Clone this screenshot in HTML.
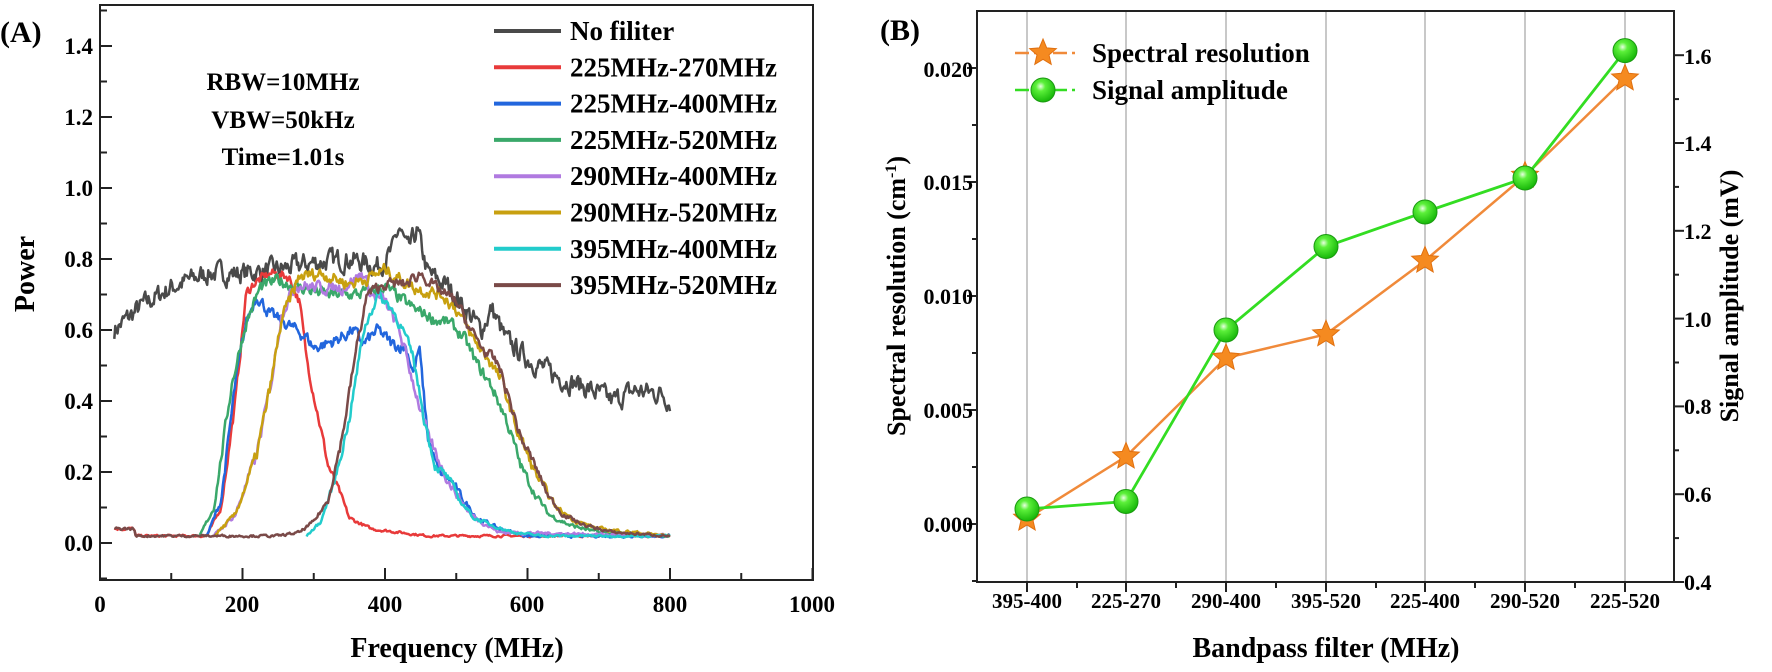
<!DOCTYPE html>
<html><head><meta charset="utf-8"><style>
html,body{margin:0;padding:0;background:#fff;}
svg{display:block;font-family:"Liberation Serif",serif;font-weight:bold;}
</style></head><body>
<svg id="s" width="1772" height="672" viewBox="0 0 1772 672" xmlns="http://www.w3.org/2000/svg">
<rect width="1772" height="672" fill="#fff"/>
<g id="A">
<text x="0" y="42" font-size="30">(A)</text>
<g font-size="23" text-anchor="end">
<text x="93" y="551">0.0</text><text x="93" y="480">0.2</text><text x="93" y="409">0.4</text>
<text x="93" y="338">0.6</text><text x="93" y="267">0.8</text><text x="93" y="196">1.0</text>
<text x="93" y="125">1.2</text><text x="93" y="54">1.4</text>
</g>
<g font-size="23" text-anchor="middle">
<text x="100" y="612">0</text><text x="242" y="612">200</text><text x="385" y="612">400</text>
<text x="527" y="612">600</text><text x="670" y="612">800</text><text x="812" y="612">1000</text>
</g>
<text x="457" y="657" font-size="28" text-anchor="middle">Frequency (MHz)</text>
<text transform="translate(34,274) rotate(-90)" font-size="28" text-anchor="middle">Power</text>
<g font-size="25" text-anchor="middle">
<text x="283" y="90">RBW=10MHz</text><text x="283" y="128">VBW=50kHz</text><text x="283" y="165">Time=1.01s</text>
</g>
<g id="curves" fill="none" stroke-width="2.5" stroke-linejoin="round"></g>
<rect x="100" y="5" width="713" height="575" fill="none" stroke="#222" stroke-width="2"/>
<g id="ticksA" stroke="#222" stroke-width="2"></g>
<g id="legA" font-size="27"></g>
</g>
<g id="B">
<text x="880" y="40" font-size="30">(B)</text>
<g id="gridB" stroke="#aaa" stroke-width="1.3"></g>
<rect x="977" y="11" width="697" height="571" fill="none" stroke="#222" stroke-width="2"/>
<g id="ticksB" stroke="#222" stroke-width="2"></g>
<g font-size="22" text-anchor="end">
<text x="973" y="532">0.000</text><text x="973" y="418">0.005</text><text x="973" y="304">0.010</text>
<text x="973" y="190">0.015</text><text x="973" y="77">0.020</text>
</g>
<g font-size="22" text-anchor="start">
<text x="1684" y="590">0.4</text><text x="1684" y="502">0.6</text><text x="1684" y="414">0.8</text>
<text x="1684" y="327">1.0</text><text x="1684" y="239">1.2</text><text x="1684" y="151">1.4</text><text x="1684" y="64">1.6</text>
</g>
<g font-size="21" text-anchor="middle" id="catB"></g>
<text x="1326" y="657" font-size="28" text-anchor="middle">Bandpass filter (MHz)</text>
<text transform="translate(905,296) rotate(-90)" font-size="26" text-anchor="middle">Spectral resolution (cm<tspan dy="-9" font-size="16">-1</tspan><tspan dy="9">)</tspan></text>
<text transform="translate(1738,296) rotate(-90)" font-size="26" text-anchor="middle">Signal amplitude (mV)</text>
<g id="dataB"></g>
<g font-size="27">
<line x1="1015" y1="53" x2="1075" y2="53" stroke="#f08a3a" stroke-width="2.5" stroke-dasharray="14,5"/>
<line x1="1015" y1="90" x2="1075" y2="90" stroke="#33dd22" stroke-width="2.5" stroke-dasharray="14,5"/>
<text x="1092" y="62">Spectral resolution</text>
<text x="1092" y="99">Signal amplitude</text>
</g>
<g id="legBm"></g>
</g>
<defs>
<radialGradient id="ball" cx="40%" cy="35%" r="65%"><stop offset="0" stop-color="#e8ffe0"/><stop offset="0.3" stop-color="#5cf03a"/><stop offset="1" stop-color="#18b80a"/></radialGradient>
</defs>
</svg>
<script>
var NS="http://www.w3.org/2000/svg";
function el(p,t,a){var e=document.createElementNS(NS,t);for(var k in a)e.setAttribute(k,a[k]);p.appendChild(e);return e;}
var seed=7;function rnd(){seed=(seed*16807)%2147483647;return seed/2147483647;}
function X(f){return 100+f*0.7125;}function Y(p){return 543-p*355;}
function interp(pts,f){for(var i=0;i<pts.length-1;i++){if(f>=pts[i][0]&&f<=pts[i+1][0]){var t=(f-pts[i][0])/((pts[i+1][0]-pts[i][0])||1);return pts[i][1]+t*(pts[i+1][1]-pts[i][1]);}}return pts[pts.length-1][1];}
var series=[
["#4a4a4a",0.025,[[20,0.6],[60,0.67],[100,0.72],[150,0.76],[200,0.76],[250,0.77],[300,0.79],[350,0.8],[390,0.78],[410,0.82],[420,0.89],[432,0.82],[445,0.88],[460,0.76],[490,0.72],[520,0.64],[535,0.6],[550,0.66],[570,0.57],[600,0.52],[640,0.47],[680,0.44],[720,0.4],[750,0.43],[790,0.42],[800,0.4]]],
["#e83a3a",0.012,[[20,0.04],[48,0.04],[50,0.02],[150,0.02],[170,0.1],[190,0.4],[205,0.7],[215,0.73],[240,0.76],[265,0.75],[280,0.68],[290,0.52],[300,0.42],[310,0.32],[320,0.22],[335,0.15],[350,0.07],[380,0.04],[420,0.03],[460,0.02],[800,0.02]]],
["#2266dd",0.015,[[150,0.02],[170,0.12],[190,0.45],[205,0.62],[220,0.7],[240,0.64],[260,0.62],[290,0.58],[300,0.55],[330,0.57],[355,0.6],[370,0.56],[390,0.6],[410,0.56],[430,0.55],[440,0.48],[448,0.55],[460,0.3],[475,0.2],[495,0.17],[510,0.12],[530,0.07],[560,0.04],[600,0.02],[800,0.02]]],
["#3aa86a",0.015,[[140,0.02],[160,0.1],[185,0.45],[205,0.62],[225,0.72],[250,0.74],[280,0.72],[320,0.7],[360,0.7],[400,0.72],[440,0.66],[470,0.63],[490,0.62],[510,0.58],[530,0.5],[550,0.44],[570,0.35],[590,0.22],[610,0.14],[630,0.08],[660,0.05],[700,0.03],[800,0.02]]],
["#b07ae0",0.015,[[160,0.02],[190,0.08],[220,0.25],[240,0.45],[255,0.65],[275,0.73],[300,0.72],[340,0.72],[370,0.76],[380,0.7],[400,0.68],[420,0.6],[440,0.45],[460,0.3],[490,0.17],[520,0.08],[560,0.03],[800,0.02]]],
["#c8a010",0.015,[[160,0.02],[190,0.08],[220,0.25],[240,0.45],[255,0.63],[280,0.75],[310,0.76],[350,0.73],[380,0.75],[400,0.77],[440,0.72],[480,0.7],[500,0.66],[525,0.57],[545,0.52],[565,0.45],[585,0.32],[610,0.2],[640,0.1],[670,0.06],[700,0.04],[800,0.02]]],
["#22cccc",0.012,[[290,0.02],[310,0.06],[330,0.18],[350,0.35],[370,0.6],[390,0.7],[410,0.66],[425,0.6],[440,0.52],[455,0.35],[470,0.22],[490,0.18],[505,0.12],[525,0.07],[550,0.05],[580,0.03],[620,0.02],[800,0.02]]],
["#7a4a48",0.013,[[20,0.04],[48,0.04],[50,0.02],[250,0.02],[280,0.03],[300,0.06],[320,0.12],[340,0.3],[360,0.55],[375,0.7],[400,0.73],[430,0.73],[450,0.76],[470,0.72],[500,0.68],[520,0.6],[540,0.54],[560,0.5],[575,0.4],[590,0.3],[610,0.22],[630,0.13],[650,0.08],[680,0.05],[720,0.03],[800,0.02]]]
];
var cg=document.getElementById("curves");
series.forEach(function(s){var pts=s[2],a=pts[0][0],b=pts[pts.length-1][0],d="";var prev=0;
for(var f=a;f<=b;f+=1.5){var v=interp(pts,f);var amp=s[1]*Math.min(1,v/0.3+0.15);prev=0.5*prev+(rnd()-0.5)*2*amp;d+=(d?" L":"M")+X(f).toFixed(1)+","+Y(v+prev).toFixed(1);}
el(cg,"path",{d:d,stroke:s[0]});});
var ta=document.getElementById("ticksA");
for(var f=0;f<=1000;f+=100){var x=X(f);el(ta,"line",{x1:x,y1:580,x2:x,y2:f%200==0?568:573});}
for(var p=-0.2;p<=1.6;p+=0.1){var y=Y(p);if(y<6||y>579)continue;var maj=Math.abs(Math.round(p*10))%2==0;el(ta,"line",{x1:100,y1:y,x2:maj?112:107,y2:y});}
var lg=document.getElementById("legA");
series.forEach(function(s,i){var y=31+36.3*i;el(lg,"line",{x1:494,y1:y,x2:561,y2:y,stroke:s[0],"stroke-width":4});
var t=el(lg,"text",{x:570,y:y+9});t.textContent=["No filiter","225MHz-270MHz","225MHz-400MHz","225MHz-520MHz","290MHz-400MHz","290MHz-520MHz","395MHz-400MHz","395MHz-520MHz"][i];});
var cx=[1027,1126,1226,1326,1425,1525,1625];
var cats=["395-400","225-270","290-400","395-520","225-400","290-520","225-520"];
var gb=document.getElementById("gridB"),tb=document.getElementById("ticksB"),cb=document.getElementById("catB");
cx.forEach(function(x,i){el(gb,"line",{x1:x,y1:12,x2:x,y2:581});el(tb,"line",{x1:x,y1:582,x2:x,y2:592});if(i<6)el(tb,"line",{x1:x+50,y1:582,x2:x+50,y2:588});var t=el(cb,"text",{x:x,y:608});t.textContent=cats[i];});
for(var i=-2;i<=9;i++){var y=524-i*57;if(y<12||y>581)continue;el(tb,"line",{x1:977,y1:y,x2:i%2==0?967:972,y2:y});}
for(var i=0;i<=12;i++){var y=582-i*43.9;el(tb,"line",{x1:1674,y1:y,x2:i%2==0?1684:1679,y2:y});}
var sr=[518.6,456.5,357.9,334.3,260.6,175.7,78.4],sa=[509,501.5,330,246.5,212,178,50.6];
var db=document.getElementById("dataB");
function star(g,x,y,r){var d="";for(var k=0;k<10;k++){var rr=k%2?r*0.45:r,a=-Math.PI/2+k*Math.PI/5;d+=(k?"L":"M")+(x+rr*Math.cos(a)).toFixed(1)+","+(y+rr*Math.sin(a)).toFixed(1);}el(g,"path",{d:d+"Z",fill:"#f58a20",stroke:"#e07010","stroke-width":1});}
el(db,"polyline",{points:cx.map(function(x,i){return x+","+sr[i]}).join(" "),fill:"none",stroke:"#f08a3a","stroke-width":2.5});
el(db,"polyline",{points:cx.map(function(x,i){return x+","+sa[i]}).join(" "),fill:"none",stroke:"#33dd22","stroke-width":2.8});
cx.forEach(function(x,i){star(db,x,sr[i],14);});
cx.forEach(function(x,i){el(db,"circle",{cx:x,cy:sa[i],r:12,fill:"url(#ball)",stroke:"#1a9a10","stroke-width":1});});
var lb=document.getElementById("legBm");star(lb,1043,53,14);el(lb,"circle",{cx:1043,cy:90,r:12,fill:"url(#ball)",stroke:"#1a9a10","stroke-width":1});
</script>
</body></html>
